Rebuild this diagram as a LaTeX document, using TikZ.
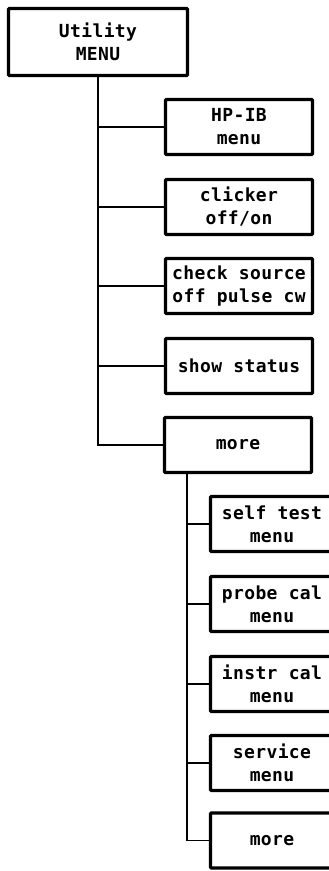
\documentclass[tikz,border=0pt]{standalone}
\usepackage{fontspec}
\newfontfamily\hpfont{DejaVu Sans Mono}[LetterSpace=2]
\begin{document}
\begin{tikzpicture}[x=1pt,y=-1pt,
  box/.style={draw, line width=3.2pt, rounded corners=1pt, inner sep=0pt, align=center,
    font=\hpfont\bfseries\fontsize{18}{23}\selectfont, minimum height=55pt},
  upbox/.style={box, minimum width=147pt},
  lowbox/.style={box, minimum width=123pt},
  link/.style={line width=1.8pt}]
\useasboundingbox (0,0) rectangle (329,871);
\clip (0,0) rectangle (329,871);
\node[box, minimum width=179pt, minimum height=67pt] (u) at (98,42) {Utility\\MENU};
\node[upbox] (hp) at (239,127) {HP-IB\\menu};
\node[upbox] (cl) at (239,207) {clicker\\off/on};
\node[upbox] (cs) at (239,286) {check source\\off pulse cw};
\node[upbox] (ss) at (239,366) {show status};
\node[upbox] (mo) at (238,445) {more};
\node[lowbox] (st) at (272,524) {self test\\menu};
\node[lowbox] (pc) at (272,604) {probe cal\\menu};
\node[lowbox] (ic) at (272,684) {instr cal\\menu};
\node[lowbox] (sv) at (272,763) {service\\menu};
\node[lowbox] (m2) at (272,840.5) {more};
\coordinate (t2) at (187,472.5);
\foreach \n in {hp,cl,cs,ss,mo} \draw[link] (u.south) |- (\n.west);
\foreach \n in {st,pc,ic,sv,m2} \draw[link] (t2) |- (\n.west);
\end{tikzpicture}
\end{document}
